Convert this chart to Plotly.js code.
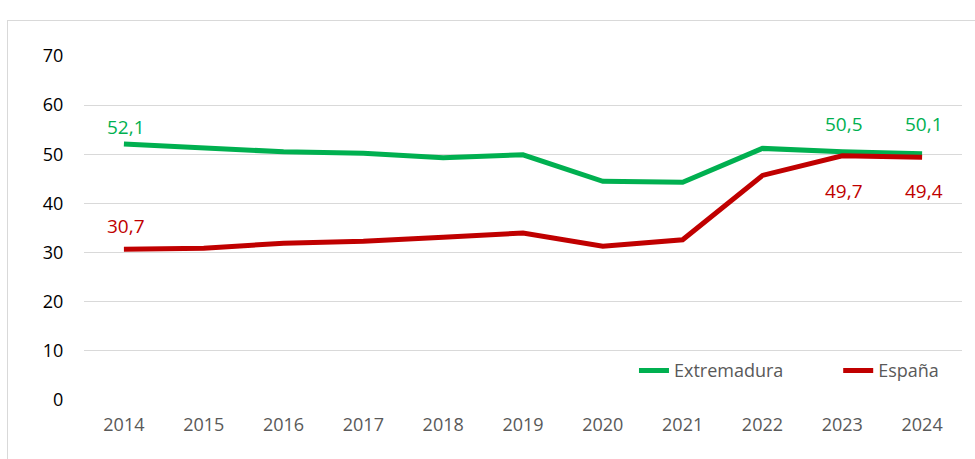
<!DOCTYPE html>
<html><head><meta charset="utf-8">
<script src="https://cdn.plot.ly/plotly-3.0.1.min.js"></script>
<style>
html,body{margin:0;padding:0;background:#fff;}
#frame{position:absolute;left:7px;top:20px;width:980px;height:460px;border:1px solid #d9d9d9;box-sizing:border-box;}
#chart{position:absolute;left:0;top:0;width:975px;height:459px;}
</style></head>
<body>
<div id="frame"></div>
<div id="chart"></div>
<script>
const years = [2014, 2015, 2016, 2017, 2018, 2019, 2020, 2021, 2022, 2023, 2024];
const extremadura = [52.1, 51.4, 50.5, 50.2, 49.3, 49.9, 44.5, 44.3, 51.2, 50.5, 50.1];
const espana = [30.7, 30.9, 31.9, 32.3, 33.1, 34.0, 31.3, 32.6, 45.7, 49.7, 49.4];
const labelIdx = [0, 9, 10];

const GREEN = '#00B050', RED = '#C00000', GREY = '#595959';
const FONT = 'Open Sans, Lato, sans-serif';
const fmt = v => v.toFixed(1).replace('.', ',');

const traces = [
  {x: years, y: extremadura, name: 'Extremadura', type: 'scatter', mode: 'lines',
   line: {color: GREEN, width: 5}, legend: 'legend'},
  {x: years, y: espana, name: 'España', type: 'scatter', mode: 'lines',
   line: {color: RED, width: 5}, legend: 'legend2'}
];

const greenShift = {0: 17, 9: 28, 10: 30};
const redShift = {0: 23, 9: -35, 10: -34};
const annotations = [];
labelIdx.forEach(i => {
  annotations.push({x: years[i], y: extremadura[i], xref: 'x', yref: 'y', text: fmt(extremadura[i]), showarrow: false,
    yshift: greenShift[i], xshift: 2, font: {family: FONT, size: 19, color: GREEN}});
  annotations.push({x: years[i], y: espana[i], xref: 'x', yref: 'y', text: fmt(espana[i]), showarrow: false,
    yshift: redShift[i], xshift: 2, font: {family: FONT, size: 19, color: RED}});
});

const legendStyle = {orientation: 'h', y: 0.085, xanchor: 'left', yanchor: 'middle',
  bgcolor: 'rgba(0,0,0,0)', font: {family: FONT, size: 18, color: GREY}};

const layout = {
  width: 975, height: 459,
  margin: {l: 84, r: 13, t: 56, b: 59},
  paper_bgcolor: 'rgba(0,0,0,0)', plot_bgcolor: 'rgba(0,0,0,0)',
  font: {family: FONT, size: 18, color: GREY},
  showlegend: true,
  legend: Object.assign({x: 0.6264}, legendStyle),
  legend2: Object.assign({x: 0.859}, legendStyle),
  xaxis: {range: [years[0] - 0.5, years[years.length - 1] + 0.5], tickmode: 'array', tickvals: years,
          ticktext: years.map(String), showgrid: false, zeroline: false, showline: false,
          ticks: 'outside', ticklen: 8, tickcolor: 'rgba(0,0,0,0)', fixedrange: true},
  yaxis: {range: [0, 70], dtick: 10, showgrid: true, gridcolor: '#d9d9d9', gridwidth: 1,
          zeroline: false, showline: false, ticks: 'outside', ticklen: 16,
          tickcolor: 'rgba(0,0,0,0)', fixedrange: true, tickfont: {color: '#000'}},
  annotations: annotations
};

Plotly.newPlot('chart', traces, layout, {displayModeBar: false, staticPlot: true});
</script>
</body></html>
